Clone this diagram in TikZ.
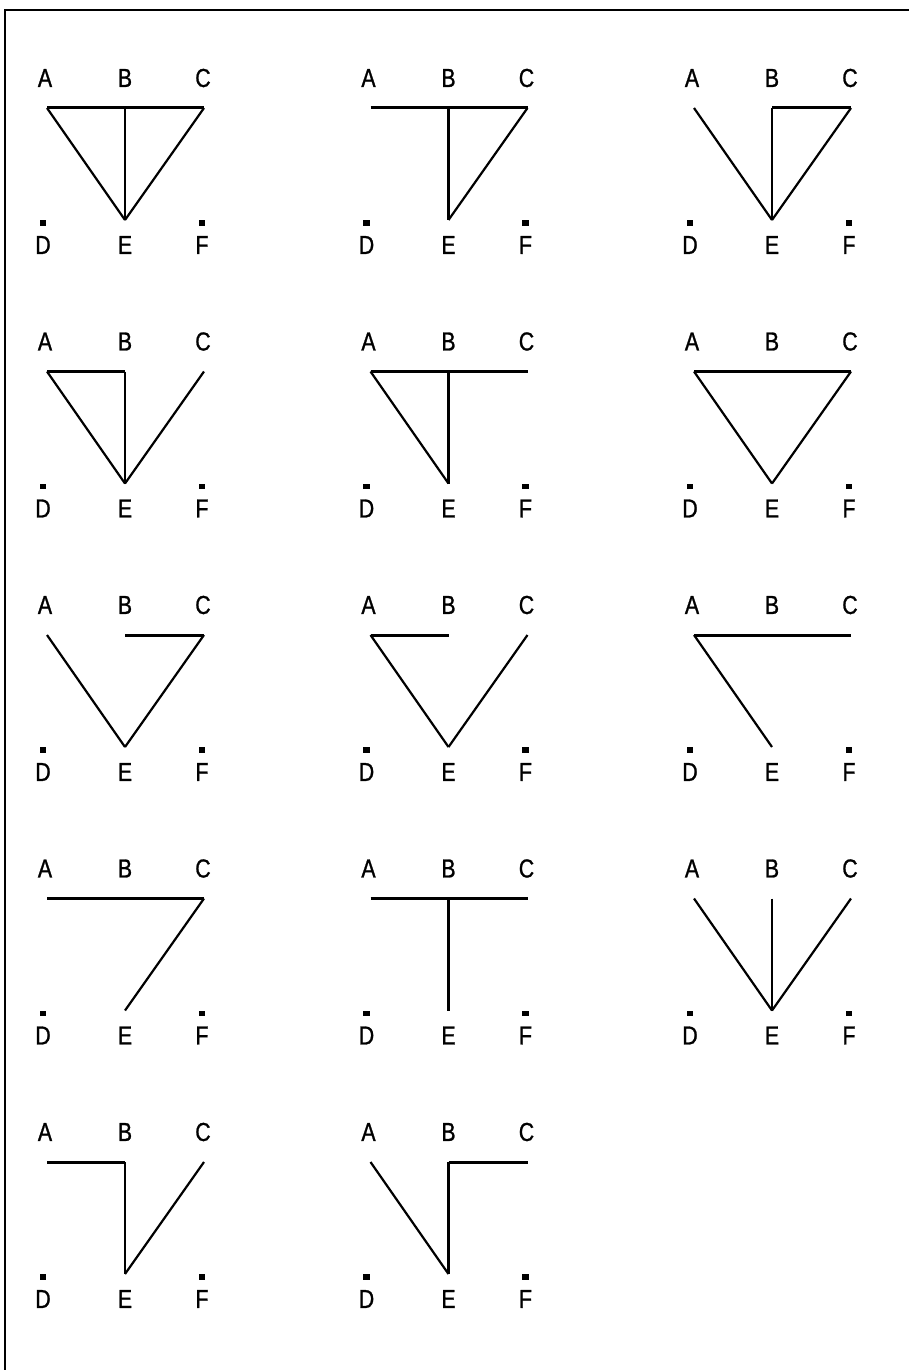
\documentclass[tikz,border=0pt]{standalone}
\usepackage{fontspec}
\setmainfont{Liberation Sans}[FakeStretch=0.82, FakeBold=1]
\tikzset{
  lbl/.style={font=\fontsize{13}{14}\selectfont, inner sep=0pt},
  marker/.style={fill=black, minimum width=3.2pt, minimum height=2.6pt, inner sep=0pt},
  hbar/.style={line width=1.5pt},
  stroke/.style={line width=1.1pt},
  end b/.style={hbar}, end c/.style={hbar}, end e/.style={stroke},
}
\begin{document}
\begin{tikzpicture}[x=0.5pt, y=-0.5pt]
  \useasboundingbox (0,0) rectangle (909,1370);

  % --- frame (left and top edges only) ---
  \coordinate (frameBL) at (5,1370);
  \coordinate (frameTL) at (5,10);
  \coordinate (frameTR) at (909,10);
  \draw[line width=1.3pt] (frameBL) -- (frameTL) -- (frameTR);

  % --- the 14 panels: number / column / row / segments ---
  \foreach \pn/\col/\row/\segs in {
      1/0/0/{a/b,b/c,a/e,b/e,c/e},
      2/1/0/{a/b,b/c,b/e,c/e},
      3/2/0/{b/c,a/e,b/e,c/e},
      4/0/1/{a/b,a/e,b/e,c/e},
      5/1/1/{a/b,b/c,a/e,b/e},
      6/2/1/{a/b,b/c,a/e,c/e},
      7/0/2/{b/c,a/e,c/e},
      8/1/2/{a/b,a/e,c/e},
      9/2/2/{a/b,b/c,a/e},
      10/0/3/{a/b,b/c,c/e},
      11/1/3/{a/b,b/c,b/e},
      12/2/3/{a/e,b/e,c/e},
      13/0/4/{a/b,b/e,c/e},
      14/1/4/{b/c,a/e,b/e}} {
    \begin{scope}[shift={(45+323.5*\col, 108+263.5*\row)}]
      \node[lbl] (A\pn) at (0,-30)   {A};
      \node[lbl] (B\pn) at (80,-30)  {B};
      \node[lbl] (C\pn) at (158,-30) {C};
      \node[lbl] (D\pn) at (-2,137)  {D};
      \node[lbl] (E\pn) at (80,137)  {E};
      \node[lbl] (F\pn) at (157,137) {F};
      \node[marker] (mD\pn) at (-2,115) {};
      \node[marker] (mF\pn) at (157,115) {};
      \coordinate (a\pn) at (2,0);
      \coordinate (b\pn) at (80,0);
      \coordinate (c\pn) at (159,0);
      \coordinate (e\pn) at (80,112);
      \foreach \u/\v in \segs
        \draw[end \v] (\u\pn) -- (\v\pn);
    \end{scope}
  }
\end{tikzpicture}
\end{document}
